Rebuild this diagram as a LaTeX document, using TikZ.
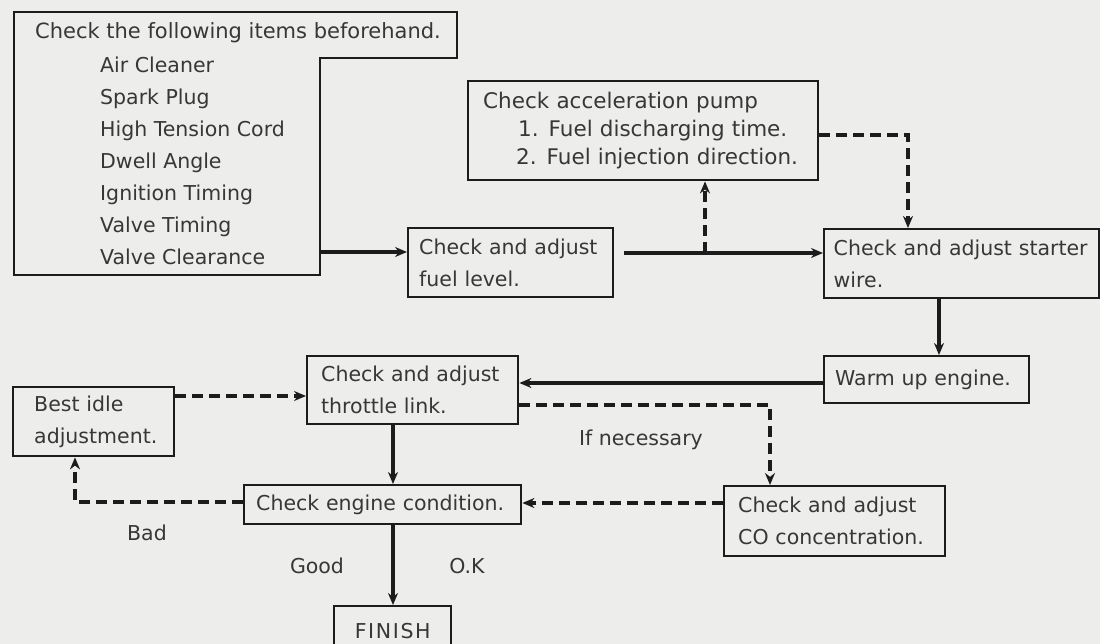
\documentclass[tikz,border=0pt]{standalone}
\usepackage{fontspec}
\setmainfont{DejaVu Sans}
\usetikzlibrary{arrows.meta}
\definecolor{paper}{RGB}{237,237,235}
\definecolor{ink}{RGB}{55,55,55}
\definecolor{rule}{RGB}{28,28,28}
\begin{document}
\begin{tikzpicture}[x=1pt,y=-1pt,
  every node/.style={text=ink,font=\fontsize{20.5}{32}\selectfont},
  box/.style={draw=rule,line width=2.4pt,anchor=north west,align=left,
              inner ysep=0pt,fill=paper},
  flow/.style={draw=rule,line width=3.4pt,-{Stealth[length=12pt,width=10pt]}},
  maybe/.style={flow,dash pattern=on 11pt off 6pt},
  lbl/.style={inner sep=0pt}]
% page
\fill[paper] (0,0) rectangle (1100,644);
\useasboundingbox (0,0) rectangle (1100,644);

% preliminary checklist (notched frame)
\draw[rule,line width=2.4pt] (14,12) -- (457,12) -- (457,58) -- (320,58)
  -- (320,275) -- (14,275) -- cycle;
\node[lbl,anchor=west,font=\fontsize{21}{32}\selectfont] (pre) at (35,33)
  {Check the following items beforehand.};
\node[lbl,anchor=west,align=left] (items) at (100,161)
  {Air Cleaner\\Spark Plug\\High Tension Cord\\Dwell Angle\\Ignition Timing\\Valve Timing\\Valve Clearance};
\coordinate (preout) at (320,252);

% process boxes
\node[box,inner xsep=11pt,text width=183pt,minimum height=69pt] (fuel) at (407,227)
  {Check and adjust\\fuel level.};
\node[box,inner xsep=15pt,text width=320pt,minimum height=99pt,
      font=\fontsize{21.5}{28}\selectfont] (pump) at (467,80)
  {Check acceleration pump\\\hspace*{35pt}1.\hspace{10pt}Fuel discharging time.\\\hspace*{33pt}2.\hspace{10pt}Fuel injection direction.};
\node[box,inner xsep=9.5pt,text width=256pt,minimum height=69pt] (starter) at (823,228)
  {Check and adjust starter\\wire.};
\node[box,inner xsep=11pt,text width=183pt,minimum height=47pt] (warm) at (823,355)
  {Warm up engine.};
\node[box,inner xsep=14pt,text width=183pt,minimum height=68pt] (throttle) at (306,355)
  {Check and adjust\\throttle link.};
\node[box,inner xsep=14pt,text width=193pt,minimum height=70pt] (co) at (723,485)
  {Check and adjust\\CO concentration.};
\node[box,inner xsep=12pt,text width=253pt,minimum height=39pt] (engine) at (243,484)
  {Check engine condition.};
\node[box,inner xsep=21pt,text width=119pt,minimum height=69pt] (best) at (12,386)
  {Best idle\\adjustment.};
\node[box,inner xsep=0pt,text width=117pt,align=center,minimum height=60pt,
      font=\fontsize{20.5}{32}\selectfont\addfontfeature{LetterSpace=8}] (finish) at (333,605)
  {\raisebox{10pt}{FINISH}};

% labels
\node[lbl] (ifnec) at (641,440) {If necessary};
\node[lbl] (bad) at (147,533) {Bad};
\node[lbl] (good) at (317,566) {Good};
\node[lbl] (ok) at (467,566) {O.K};

% connectors
\coordinate (tee) at (705,253);
\draw[flow] (preout) -- (preout -| fuel.west);
\draw[flow] ([xshift=10pt]fuel.east |- tee) -- (tee -| starter.west);
\draw[maybe] (tee) -- (tee |- pump.south);
\draw[maybe] (pump.east |- 0,135) -- (908,135) -- (908,0 |- starter.north);
\draw[flow] (939,0 |- starter.south) -- (939,0 |- warm.north);
\draw[flow] (warm.west |- 0,383) -- (throttle.east |- 0,383);
\draw[maybe] (throttle.east |- 0,405) -- (770,405) -- (770,0 |- co.north);
\draw[maybe] (co.west |- 0,503) -- (engine.east |- 0,503);
\draw[flow] (393,0 |- throttle.south) -- (393,0 |- engine.north);
\draw[maybe] (engine.west |- 0,502) -- (75,502) -- (75,0 |- best.south);
\draw[maybe] (best.east |- 0,396) -- (throttle.west |- 0,396);
\draw[flow] (393,0 |- engine.south) -- (393,0 |- finish.north);
\end{tikzpicture}
\end{document}
